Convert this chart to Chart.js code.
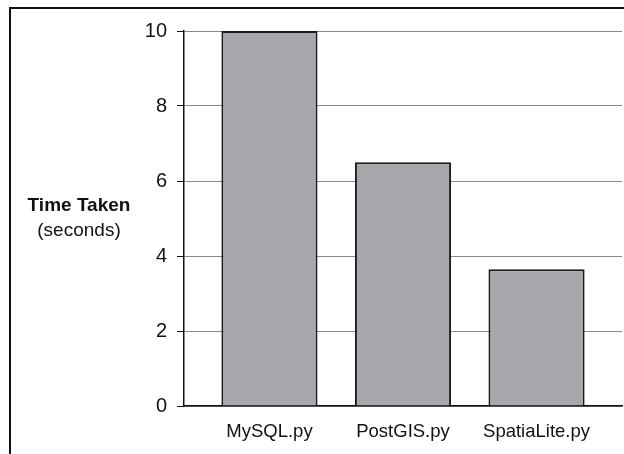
<!DOCTYPE html>
<html>
<head>
<meta charset="utf-8">
<script src="https://cdn.jsdelivr.net/npm/chart.js@4/dist/chart.umd.min.js"></script>
<style>
html,body{margin:0;padding:0;background:#fff;}
canvas{display:block;}
</style>
</head>
<body>
<canvas id="c" width="624" height="454"></canvas>
<script>
const categories = ["MySQL.py", "PostGIS.py", "SpatiaLite.py"];
const timeTaken = [10, 6.5, 3.65];
const yTicks = [0, 2, 4, 6, 8, 10];
const axisTitle = ["Time Taken", "(seconds)"];

const FONT = "'Liberation Sans', Arial, sans-serif";

const framePlugin = {
  id: 'frame',
  beforeDraw(chart) {
    const ctx = chart.ctx;
    ctx.save();
    ctx.fillStyle = '#fff';
    ctx.fillRect(0, 0, chart.width, chart.height);
    ctx.strokeStyle = '#111';
    ctx.lineWidth = 2;
    ctx.beginPath();
    ctx.moveTo(10, chart.height);
    ctx.lineTo(10, 8);
    ctx.lineTo(chart.width, 8);
    ctx.stroke();
    ctx.restore();
  },
  afterDraw(chart) {
    const ctx = chart.ctx;
    const area = chart.chartArea;
    const cy = (area.top + area.bottom) / 2;
    ctx.save();
    ctx.fillStyle = '#111';
    ctx.textAlign = 'center';
    ctx.textBaseline = 'middle';
    ctx.font = "bold 19px " + FONT;
    ctx.fillText(axisTitle[0], 79, cy - 13);
    ctx.font = "19px " + FONT;
    ctx.fillText(axisTitle[1], 79, cy + 12);
    ctx.restore();
  }
};

new Chart(document.getElementById('c'), {
  type: 'bar',
  data: {
    datasets: [{
      data: timeTaken.map((v, i) => ({ x: i + 1, y: v })),
      backgroundColor: '#a7a8ab',
      borderColor: '#1a1a1a',
      borderWidth: 2,
      borderSkipped: 'start',
      categoryPercentage: 1,
      barPercentage: 0.72
    }]
  },
  options: {
    responsive: false,
    animation: false,
    events: [],
    layout: { padding: { left: 124, top: 31, right: 2, bottom: 0 } },
    plugins: { legend: { display: false }, tooltip: { enabled: false } },
    scales: {
      x: {
        type: 'linear',
        offset: false,
        min: 0.36,
        max: 3.64,
        afterBuildTicks(scale) { scale.ticks = categories.map((c, i) => ({ value: i + 1 })); },
        afterFit(scale) { scale.height = 48; },
        grid: { display: false, drawTicks: false, offset: false },
        border: { display: true, color: '#111', width: 1.5 },
        ticks: {
          callback: (v) => categories[Math.round(v) - 1] || '',
          color: '#111',
          font: { family: FONT, size: 18.5 },
          padding: 15,
          maxRotation: 0,
          autoSkip: false
        }
      },
      y: {
        min: 0,
        max: 10,
        afterBuildTicks(scale) { scale.ticks = yTicks.map(v => ({ value: v })); },
        afterFit(scale) { scale.width = 60; },
        grid: { color: '#8a8a8a', lineWidth: 1, tickColor: '#111', tickLength: 7 },
        border: { display: true, color: '#111', width: 1.5 },
        ticks: {
          color: '#111',
          font: { family: FONT, size: 20 },
          padding: 10
        }
      }
    }
  },
  plugins: [framePlugin]
});
</script>
</body>
</html>
